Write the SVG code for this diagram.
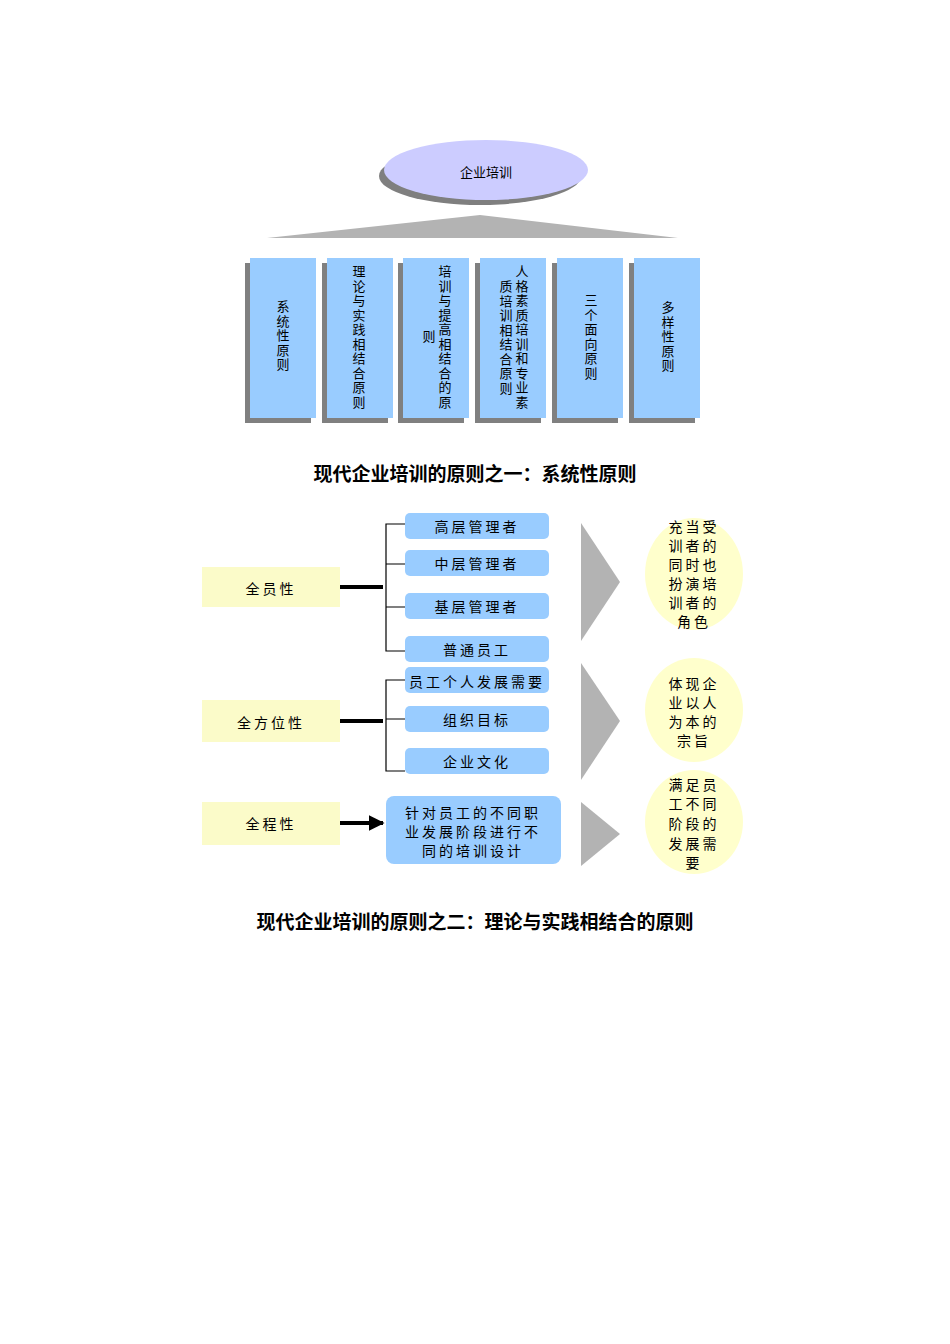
<svg xmlns="http://www.w3.org/2000/svg" width="950" height="1344" viewBox="0 0 950 1344">
<defs>
<style>
text{font-family:"Liberation Sans","Noto Sans CJK SC",sans-serif;fill:#000}
.v{writing-mode:vertical-rl;font-size:13px;letter-spacing:1.5px}
.sh{fill:#808080}
.bx{fill:#99ccff}
.y{fill:#fbfbc9}
.b{fill:#99ccff}
.t{font-size:14px;letter-spacing:3px;text-anchor:middle}
.c{font-size:14px;letter-spacing:3px;text-anchor:middle}
.ttl{font-size:19px;font-weight:bold;text-anchor:middle}
.tri{fill:#b3b3b3}
.el{fill:#ffffcc}
</style>
<marker id="ah" viewBox="0 0 10 10" refX="9" refY="5" markerWidth="4" markerHeight="4" orient="auto"><path d="M0,0L10,5L0,10z" fill="#000"/></marker>
</defs>
<g id="root">
<ellipse cx="480" cy="176" rx="101" ry="29" fill="#7f7f7f"/>
<ellipse cx="486" cy="170" rx="102" ry="30" fill="#ccccff"/>
<text x="486" y="177" font-size="13" text-anchor="middle">企业培训</text>
</g>
<polygon points="267,238 480,215 678,238" class="tri"/>
<g id="b1"><rect x="245" y="263" width="66" height="160" class="sh"/><rect x="250" y="258" width="66" height="160" class="bx"/><text class="v" x="282" y="300">系统性原则</text></g>
<g id="b2"><rect x="322" y="263" width="66" height="160" class="sh"/><rect x="327" y="258" width="66" height="160" class="bx"/><text class="v" x="358" y="265">理论与实践相结合原则</text></g>
<g id="b3"><rect x="398" y="263" width="66" height="160" class="sh"/><rect x="403" y="258" width="66" height="160" class="bx"/><text class="v" x="444" y="265">培训与提高相结合的原</text><text class="v" x="428" y="330">则</text></g>
<g id="b4"><rect x="475" y="263" width="66" height="160" class="sh"/><rect x="480" y="258" width="66" height="160" class="bx"/><text class="v" x="521" y="265">人格素质培训和专业素</text><text class="v" x="505" y="280">质培训相结合原则</text></g>
<g id="b5"><rect x="552" y="263" width="66" height="160" class="sh"/><rect x="557" y="258" width="66" height="160" class="bx"/><text class="v" x="590" y="294">三个面向原则</text></g>
<g id="b6"><rect x="629" y="263" width="66" height="160" class="sh"/><rect x="634" y="258" width="66" height="160" class="bx"/><text class="v" x="667" y="301">多样性原则</text></g>
<text class="ttl" x="475" y="481">现代企业培训的原则之一：系统性原则</text>

<g id="connectors" stroke="#000" fill="none">
<path d="M340,587H383M340,721H383M340,823H383" stroke-width="4" marker-end="url(#ah)"/>
<path d="M405,524H386V651H405M386,564H405M386,607H405" stroke-width="1.2"/>
<path d="M405,680H386V771H405M386,719H405" stroke-width="1.2"/>
</g>
<g id="y1"><rect x="202" y="567" width="138" height="40" class="y"/><text class="t" x="271" y="594">全员性</text></g>
<g id="y2"><rect x="202" y="700" width="138" height="42" class="y"/><text class="t" x="271" y="728">全方位性</text></g>
<g id="y3"><rect x="202" y="802" width="138" height="43" class="y"/><text class="t" x="271" y="829">全程性</text></g>
<g id="n1"><rect x="405" y="513" width="144" height="26" rx="5" class="b"/><text class="c" x="477" y="532">高层管理者</text></g>
<g id="n2"><rect x="405" y="550" width="144" height="26" rx="5" class="b"/><text class="c" x="477" y="569">中层管理者</text></g>
<g id="n3"><rect x="405" y="593" width="144" height="26" rx="5" class="b"/><text class="c" x="477" y="612">基层管理者</text></g>
<g id="n4"><rect x="405" y="636" width="144" height="26" rx="5" class="b"/><text class="c" x="477" y="655">普通员工</text></g>
<g id="n5"><rect x="405" y="667" width="144" height="26" rx="5" class="b"/><text class="c" x="477" y="687">员工个人发展需要</text></g>
<g id="n6"><rect x="405" y="706" width="144" height="26" rx="5" class="b"/><text class="c" x="477" y="725">组织目标</text></g>
<g id="n7"><rect x="405" y="748" width="144" height="26" rx="5" class="b"/><text class="c" x="477" y="767">企业文化</text></g>
<g id="n8"><rect x="386" y="796" width="175" height="68" rx="8" class="b"/><text class="c" x="473" y="818">针对员工的不同职</text><text class="c" x="473" y="837">业发展阶段进行不</text><text class="c" x="473" y="856">同的培训设计</text></g>
<polygon class="tri" points="581,523 620,582 581,641"/>
<polygon class="tri" points="581,663 620,721 581,780"/>
<polygon class="tri" points="581,802 620,834 581,866"/>
<g id="e1"><ellipse class="el" cx="694" cy="574" rx="49" ry="56"/><g class="c"><text x="694" y="532">充当受</text><text x="694" y="551">训者的</text><text x="694" y="570">同时也</text><text x="694" y="589">扮演培</text><text x="694" y="608">训者的</text><text x="694" y="627">角色</text></g></g>
<g id="e2"><ellipse class="el" cx="694" cy="710" rx="49" ry="52"/><g class="c"><text x="694" y="689">体现企</text><text x="694" y="708">业以人</text><text x="694" y="727">为本的</text><text x="694" y="746">宗旨</text></g></g>
<g id="e3"><ellipse class="el" cx="694" cy="822" rx="49" ry="52"/><g class="c"><text x="694" y="790">满足员</text><text x="694" y="809">工不同</text><text x="694" y="829">阶段的</text><text x="694" y="849">发展需</text><text x="694" y="868">要</text></g></g>
<text class="ttl" x="475" y="929">现代企业培训的原则之二：理论与实践相结合的原则</text>
</svg>
